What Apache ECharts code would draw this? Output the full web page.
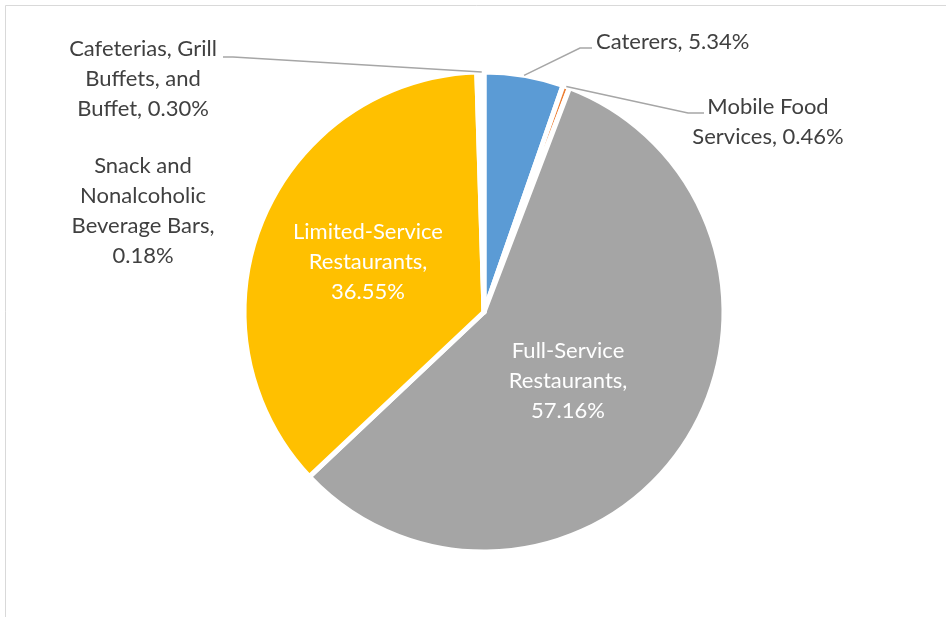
<!DOCTYPE html>
<html>
<head>
<meta charset="utf-8">
<script src="https://cdn.jsdelivr.net/npm/echarts@6/dist/echarts.min.js"></script>
<style>
  html, body { margin: 0; padding: 0; background: #ffffff; }
  #chart { width: 946px; height: 617px; }
</style>
</head>
<body>
<div id="chart"></div>
<script>
// ---- data ----
var categories = [
  'Caterers',
  'Mobile Food Services',
  'Full-Service Restaurants',
  'Limited-Service Restaurants',
  'Snack and Nonalcoholic Beverage Bars',
  'Cafeterias, Grill Buffets, and Buffet'
];
var values = [5.34, 0.46, 57.16, 36.55, 0.18, 0.30];
// wrapped label templates as shown in the chart ({v} = value)
var labelTemplates = [
  'Caterers, {v}',
  'Mobile Food\nServices, {v}',
  'Full-Service\nRestaurants,\n{v}',
  'Limited-Service\nRestaurants,\n{v}',
  'Snack and\nNonalcoholic\nBeverage Bars,\n{v}',
  'Cafeterias, Grill\nBuffets, and\nBuffet, {v}'
];
var colors = ['#5B9BD5', '#ED7D31', '#A5A5A5', '#FFC000', '#4472C4', '#70AD47'];

// ---- layout ----
var PIE_CX = 484, PIE_CY = 312, PIE_R = 240;
var labelPlacement = [
  { x: 596, y: 42, align: 'left', elbow: [580, 48], end: [592, 48] },
  { x: 768, y: 122, align: 'center', elbow: [688, 113], end: [704, 113] },
  { x: 568, y: 381, align: 'center' },
  { x: 368, y: 262, align: 'center' },
  { x: 143, y: 211, align: 'center' },
  { x: 143, y: 79, align: 'center', elbow: [233, 57], end: [223, 57] }
];
var insideIdx = [2, 3];

var FONT = 'Lato';
var FS = 22;

var data = categories.map(function (c, i) {
  var inside = insideIdx.indexOf(i) >= 0;
  return {
    name: c,
    value: values[i],
    itemStyle: { color: colors[i] },
    label: {
      position: inside ? 'inside' : 'outside',
      color: inside ? '#ffffff' : '#404040'
    }
  };
});

var chart = echarts.init(document.getElementById('chart'), null, { renderer: 'canvas' });
chart.setOption({
  animation: false,
  backgroundColor: '#ffffff',
  graphic: [{
    id: 'frame',
    type: 'rect',
    shape: { x: 5.5, y: 5.5, width: 1200, height: 1200 },
    style: { fill: 'none', stroke: '#d9d9d9', lineWidth: 1 },
    silent: true
  }],
  series: [{
    type: 'pie',
    center: [PIE_CX, PIE_CY],
    radius: PIE_R,
    startAngle: 90,
    clockwise: true,
    avoidLabelOverlap: false,
    minShowLabelAngle: 0,
    data: data,
    itemStyle: { borderColor: '#ffffff', borderWidth: 5 },
    label: {
      show: true,
      fontFamily: FONT,
      fontSize: FS,
      lineHeight: 30,
      color: '#404040',
      formatter: function (p) {
        return labelTemplates[p.dataIndex].replace('{v}', p.value.toFixed(2) + '%');
      }
    },
    labelLine: { show: false },
    labelLayout: function (params) {
      var pl = labelPlacement[params.dataIndex];
      return { x: pl.x, y: pl.y, align: pl.align, verticalAlign: 'middle' };
    }
  }]
});

// leader lines: anchored at each slice's outer edge, mid-angle, from the pie's own layout
var sData = chart.getModel().getSeriesByIndex(0).getData();
var leaders = [];
labelPlacement.forEach(function (pl, i) {
  if (!pl.elbow) return;
  var lay = sData.getItemLayout(i);
  var mid = (lay.startAngle + lay.endAngle) / 2;
  var a = [lay.cx + lay.r * Math.cos(mid), lay.cy + lay.r * Math.sin(mid)];
  leaders.push({
    type: 'polyline',
    z: 10,
    silent: true,
    shape: { points: [a, pl.elbow, pl.end] },
    style: { fill: null, stroke: '#a6a6a6', lineWidth: 1.5 }
  });
});
chart.setOption({ graphic: leaders.map(function (g, k) { g.id = 'leader' + k; return g; }) });
</script>
</body>
</html>
